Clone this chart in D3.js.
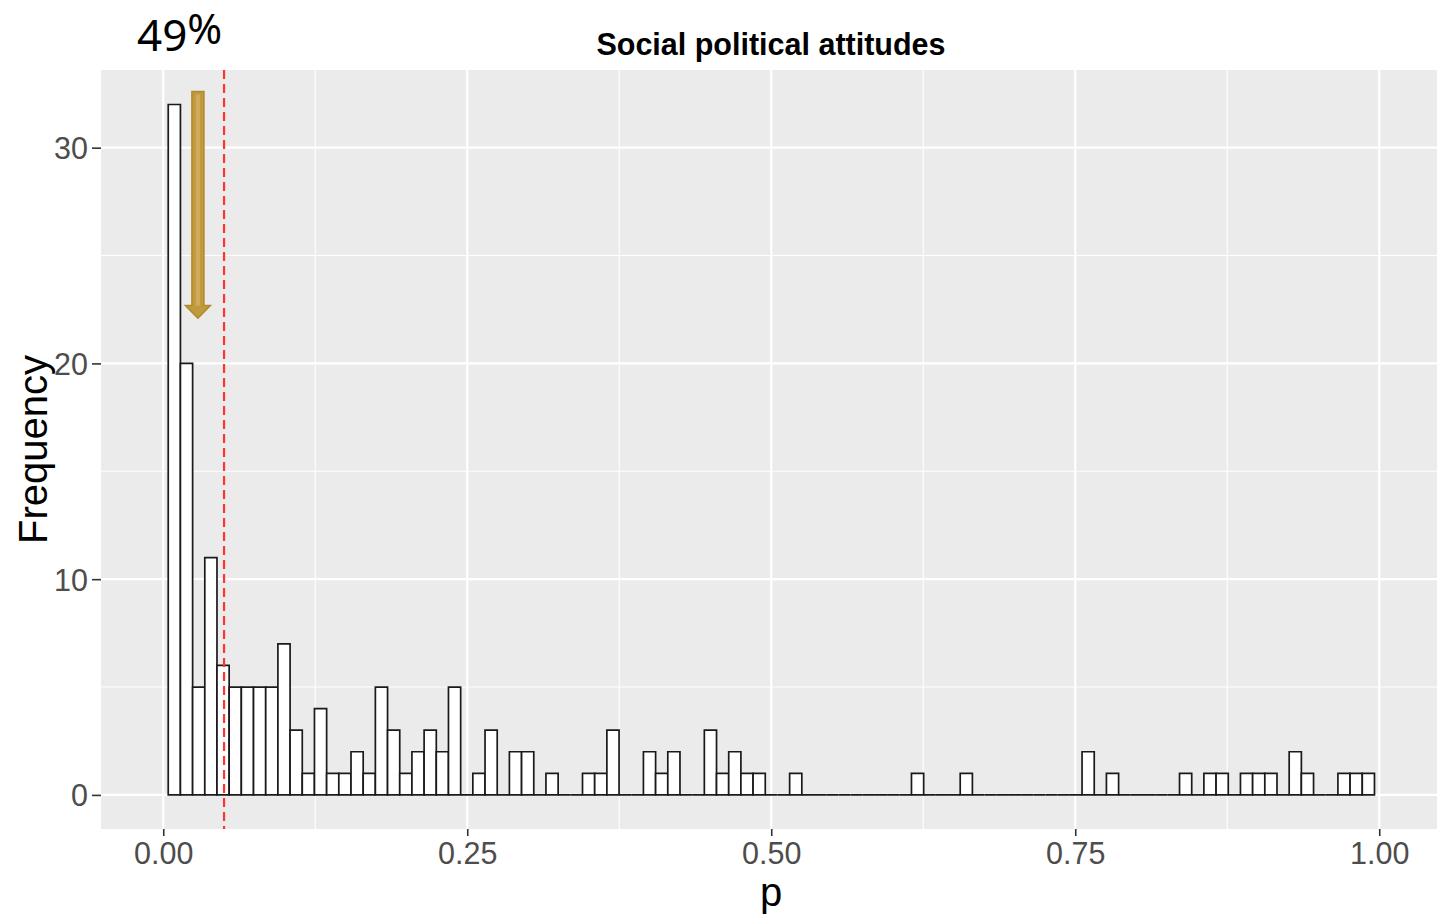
<!DOCTYPE html>
<html>
<head>
<meta charset="utf-8">
<script src="https://cdn.jsdelivr.net/npm/d3@7"></script>
<style>
  html, body { margin: 0; padding: 0; background: #ffffff; }
  svg { display: block; }
</style>
</head>
<body>
<svg id="chart" width="1437" height="920"></svg>
<script>
// Histogram of p-values, 99 equal-width bins
const binStart = 0.0041;
const binWidth = 0.01002;
const counts = [
  32, 20, 5, 11, 6, 5, 5, 5, 5, 7,
  3, 1, 4, 1, 1, 2, 1, 5, 3, 1,
  2, 3, 2, 5, 0, 1, 3, 0, 2, 2,
  0, 1, 0, 0, 1, 1, 3, 0, 0, 2,
  1, 2, 0, 0, 3, 1, 2, 1, 1, 0,
  0, 1, 0, 0, 0, 0, 0, 0, 0, 0,
  0, 1, 0, 0, 0, 1, 0, 0, 0, 0,
  0, 0, 0, 0, 0, 2, 0, 1, 0, 0,
  0, 0, 0, 1, 0, 1, 1, 0, 1, 1,
  1, 0, 2, 1, 0, 0, 1, 1, 1
];
const xTicks = [0, 0.25, 0.5, 0.75, 1];
const xTickLabels = ["0.00", "0.25", "0.50", "0.75", "1.00"];
const xMinor = [0.125, 0.375, 0.625, 0.875];
const yTicks = [0, 10, 20, 30];
const yMinor = [5, 15, 25];
const cutoff = 0.05;
const titleText = "Social political attitudes";
const xTitle = "p";
const yTitle = "Frequency";
const noteNumber = "49";
const noteSign = "%";
// downward arrow annotation: x position and vertical extent in data units
const arrowX = 0.0285;
const arrowFrom = 32.6;
const arrowTo = 22.1;

const bins = counts.map((c, i) => ({
  x0: binStart + i * binWidth,
  x1: binStart + (i + 1) * binWidth,
  n: c
}));

const panel = { left: 101, right: 1437, top: 70, bottom: 829 };

const x = d3.scaleLinear().domain([-0.0512, 1.0475]).range([panel.left, panel.right]);
const y = d3.scaleLinear().domain([-1.58, 33.6]).range([panel.bottom, panel.top]);

const svg = d3.select("#chart");
const font = "'Liberation Sans', Arial, sans-serif";

// panel background
svg.append("rect")
  .attr("x", panel.left).attr("y", panel.top)
  .attr("width", panel.right - panel.left).attr("height", panel.bottom - panel.top)
  .attr("fill", "#ebebeb");

const grid = svg.append("g");
// minor grid
grid.selectAll("line.xminor").data(xMinor).join("line")
  .attr("x1", d => x(d)).attr("x2", d => x(d))
  .attr("y1", panel.top).attr("y2", panel.bottom)
  .attr("stroke", "#ffffff").attr("stroke-width", 1.1);
grid.selectAll("line.yminor").data(yMinor).join("line")
  .attr("x1", panel.left).attr("x2", panel.right)
  .attr("y1", d => y(d)).attr("y2", d => y(d))
  .attr("stroke", "#ffffff").attr("stroke-width", 1.1);
// major grid
grid.selectAll("line.xmajor").data(xTicks).join("line")
  .attr("x1", d => x(d)).attr("x2", d => x(d))
  .attr("y1", panel.top).attr("y2", panel.bottom)
  .attr("stroke", "#ffffff").attr("stroke-width", 2.2);
grid.selectAll("line.ymajor").data(yTicks).join("line")
  .attr("x1", panel.left).attr("x2", panel.right)
  .attr("y1", d => y(d)).attr("y2", d => y(d))
  .attr("stroke", "#ffffff").attr("stroke-width", 2.2);

// histogram bars as closed paths, so empty bins still show as a flat outline on the baseline
svg.append("g").selectAll("path").data(bins).join("path")
  .attr("d", d => {
    const l = x(d.x0), r = x(d.x1), b = y(0), t = y(d.n);
    return `M${l},${b}V${t}H${r}V${b}Z`;
  })
  .attr("fill", "#ffffff")
  .attr("stroke", "#1a1a1a")
  .attr("stroke-width", 1.7)
  .attr("stroke-linejoin", "miter");

// significance cutoff
svg.append("line")
  .attr("x1", x(cutoff)).attr("x2", x(cutoff))
  .attr("y1", panel.top).attr("y2", panel.bottom)
  .attr("stroke", "#ff3333").attr("stroke-width", 2.2)
  .attr("stroke-dasharray", "9,5");

// arrow annotation
const ax = x(arrowX);
const yTop = y(arrowFrom), yTip = y(arrowTo);
const shaftHalf = 6, headHalf = 12.5, headLen = 12.5;
const arrowPts = [
  [ax - shaftHalf, yTop], [ax + shaftHalf, yTop],
  [ax + shaftHalf, yTip - headLen], [ax + headHalf, yTip - headLen],
  [ax, yTip],
  [ax - headHalf, yTip - headLen], [ax - shaftHalf, yTip - headLen]
];
svg.append("path")
  .attr("d", d3.line()(arrowPts) + "Z")
  .attr("fill", "#c09a3c")
  .attr("stroke", "#b08a2c")
  .attr("stroke-width", 1.5);
svg.append("rect")
  .attr("x", ax - 2).attr("y", yTop + 3)
  .attr("width", 4).attr("height", (yTip - headLen) - yTop - 3)
  .attr("fill", "#d0ac5a");

// axes
const xAxis = svg.append("g").attr("transform", `translate(0,${panel.bottom})`)
  .call(d3.axisBottom(x).tickValues(xTicks).tickFormat((d, i) => xTickLabels[i]).tickSize(7).tickPadding(6));
const yAxis = svg.append("g").attr("transform", `translate(${panel.left},0)`)
  .call(d3.axisLeft(y).tickValues(yTicks).tickSize(9).tickPadding(4));
[xAxis, yAxis].forEach(g => {
  g.select(".domain").remove();
  g.selectAll(".tick line").attr("stroke", "#333333").attr("stroke-width", 1.6);
  g.selectAll(".tick text").attr("fill", "#4d4d4d")
    .style("font-family", font).style("font-size", "30.5px");
});
yAxis.selectAll(".tick text").attr("dy", "0.36em");

// titles
svg.append("text")
  .attr("x", (panel.left + panel.right) / 2 + 2).attr("y", 55)
  .attr("text-anchor", "middle")
  .style("font-family", font).style("font-size", "30.5px").style("font-weight", "bold")
  .attr("fill", "#000000")
  .text(titleText);

svg.append("text")
  .attr("x", x(0.5)).attr("y", 906)
  .attr("text-anchor", "middle")
  .style("font-family", font).style("font-size", "40px")
  .attr("fill", "#000000")
  .text(xTitle);

svg.append("text")
  .attr("transform", `translate(47,${(panel.top + panel.bottom) / 2}) rotate(-90)`)
  .attr("text-anchor", "middle")
  .style("font-family", font).style("font-size", "40px")
  .attr("fill", "#000000")
  .text(yTitle);

const note = svg.append("text")
  .attr("x", 137).attr("y", 51)
  .style("font-family", "'Noto Sans', 'Open Sans', sans-serif").style("font-size", "44px")
  .attr("fill", "#000000");
note.append("tspan").text(noteNumber);
note.append("tspan").attr("dy", -7).style("font-size", "42px").text(noteSign);
</script>
</body>
</html>
